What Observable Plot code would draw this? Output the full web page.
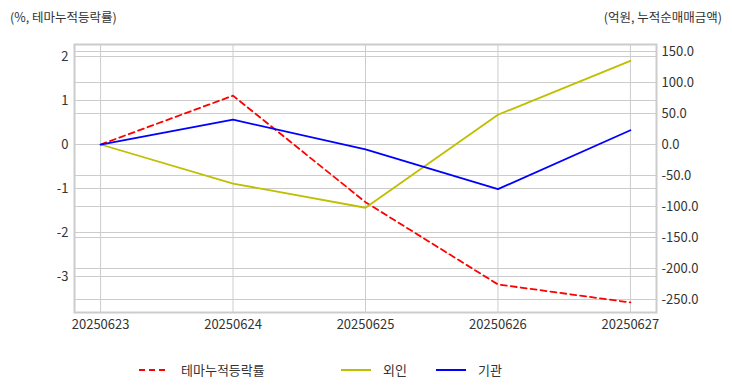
<!DOCTYPE html>
<html>
<head>
<meta charset="utf-8">
<script src="https://cdn.jsdelivr.net/npm/d3@7"></script>
<script src="https://cdn.jsdelivr.net/npm/@observablehq/plot@0.6"></script>
<style>
  html, body { margin: 0; padding: 0; background: #fff; }
  body { width: 732px; height: 392px; position: relative; font-family: "Noto Sans CJK KR", "Noto Sans", sans-serif; color: #333; overflow: hidden; }
  #chart { position: absolute; left: 0; top: 0; }
  .ttl { position: absolute; top: 7px; font-size: 12.5px; color: #333; white-space: nowrap; }
  .leg { position: absolute; top: 360px; font-size: 13px; color: #333; display: flex; align-items: center; white-space: nowrap; }
  .leg svg { margin-right: 12px; }
</style>
</head>
<body>
<div id="chart"></div>
<div class="ttl" style="left:10px;">(%, 테마누적등락률)</div>
<div class="ttl" style="right:10px;">(억원, 누적순매매금액)</div>
<div class="leg" style="left:139px;"><svg width="30" height="4"><line x1="0" y1="2" x2="30" y2="2" stroke="#ff0000" stroke-width="2" stroke-dasharray="6,4"/></svg>테마누적등락률</div>
<div class="leg" style="left:341px;"><svg width="30" height="4"><line x1="0" y1="2" x2="30" y2="2" stroke="#bfbf00" stroke-width="2"/></svg>외인</div>
<div class="leg" style="left:436px;"><svg width="30" height="4"><line x1="0" y1="2" x2="30" y2="2" stroke="#0000ff" stroke-width="2"/></svg>기관</div>
<script>
const dates = ["20250623", "20250624", "20250625", "20250626", "20250627"];
const themeRate = [0, 1.11, -1.31, -3.18, -3.59];      // % (left axis)
const foreignNet = [0, -63, -102, 48, 135];            // 억원 (right axis)
const institutionNet = [0, 40, -8, -72, 23];           // 억원 (right axis)
const leftTicks = [-3, -2, -1, 0, 1, 2];
const rightTicks = [-250, -200, -150, -100, -50, 0, 50, 100, 150];

const k = 0.62 / 44; // right-axis units -> left-axis units
const idx = dates.map((d, i) => i);
const themeData = idx.map(i => ({i, v: themeRate[i]}));
const foreignData = idx.map(i => ({i, v: foreignNet[i] * k}));
const instData = idx.map(i => ({i, v: institutionNet[i] * k}));
const rightPos = rightTicks.map(r => r * k);

const grid = "#cccccc";
const chart = Plot.plot({
  width: 732,
  height: 335,
  marginLeft: 74,
  marginRight: 76,
  marginTop: 44,
  marginBottom: 23,
  style: {fontFamily: '"Noto Sans CJK KR", "Noto Sans", sans-serif', fontSize: "13px", color: "#333", background: "#fff"},
  x: {domain: [-0.197, 4.197]},
  y: {domain: [-3.818, 2.273]},
  marks: [
    Plot.gridX(idx, {stroke: grid, strokeOpacity: 1}),
    Plot.gridY(leftTicks, {stroke: grid, strokeOpacity: 1}),
    Plot.gridY(rightPos, {stroke: grid, strokeOpacity: 1}),
    Plot.frame({stroke: "#cccccc", strokeWidth: 2}),
    Plot.axisX(idx, {tickSize: 0, tickPadding: 7, tickFormat: i => dates[i], label: null, fill: "#333"}),
    Plot.axisY(leftTicks, {anchor: "left", tickSize: 0, tickPadding: 6, tickFormat: d => String(d), label: null, fill: "#333"}),
    Plot.axisY(rightPos, {anchor: "right", tickSize: 0, tickPadding: 5, tickFormat: d => (Math.round(d / k * 10) / 10).toFixed(1), label: null, fill: "#333"}),
    Plot.line(themeData, {x: "i", y: "v", stroke: "#ff0000", strokeWidth: 1.8, strokeDasharray: "6,4"}),
    Plot.line(foreignData, {x: "i", y: "v", stroke: "#bfbf00", strokeWidth: 1.8}),
    Plot.line(instData, {x: "i", y: "v", stroke: "#0000ff", strokeWidth: 1.8})
  ]
});
document.getElementById("chart").appendChild(chart);
</script>
</body>
</html>
